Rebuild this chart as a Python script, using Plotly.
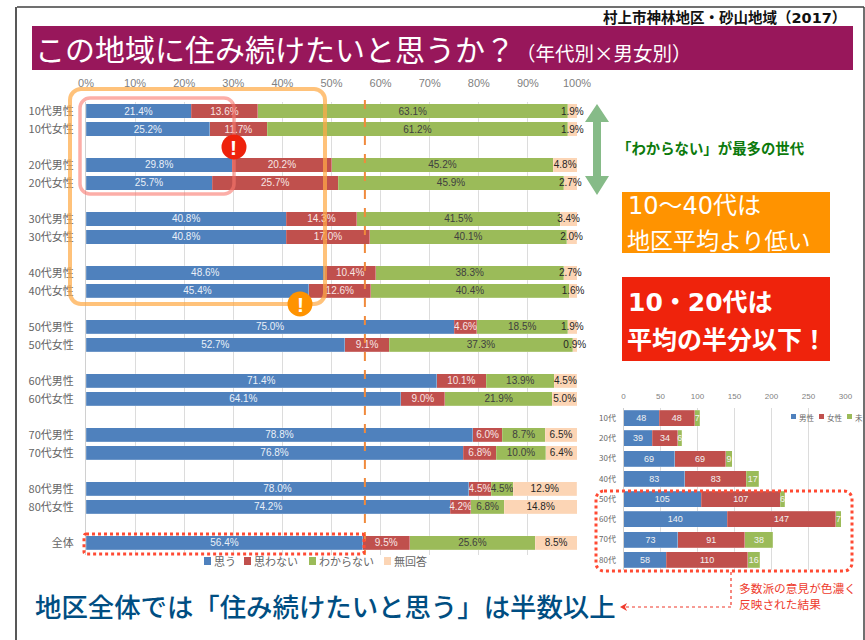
import plotly.graph_objects as go

W, H = 865, 640
FONT = "Noto Sans CJK JP"
FONT_MED = "Noto Sans CJK JP Medium, Noto Sans CJK JP"
FONT_WIDE = "DejaVu Sans, Noto Sans CJK JP"

# ---------- main chart data ----------
row_labels = ["10代男性", "10代女性", " ", "20代男性", "20代女性", "  ",
              "30代男性", "30代女性", "   ", "40代男性", "40代女性", "    ",
              "50代男性", "50代女性", "     ", "60代男性", "60代女性", "      ",
              "70代男性", "70代女性", "       ", "80代男性", "80代女性", "        ", "全体"]
labels = [r for r in row_labels if r.strip()]
agree = [21.4, 25.2, 29.8, 25.7, 40.8, 40.8, 48.6, 45.4, 75.0, 52.7, 71.4, 64.1, 78.8, 76.8, 78.0, 74.2, 56.4]
disagree = [13.6, 11.7, 20.2, 25.7, 14.3, 17.0, 10.4, 12.6, 4.6, 9.1, 10.1, 9.0, 6.0, 6.8, 4.5, 4.2, 9.5]
unknown = [63.1, 61.2, 45.2, 45.9, 41.5, 40.1, 38.3, 40.4, 18.5, 37.3, 13.9, 21.9, 8.7, 10.0, 4.5, 6.8, 25.6]
noanswer = [1.9, 1.9, 4.8, 2.7, 3.4, 2.0, 2.7, 1.6, 1.9, 0.9, 4.5, 5.0, 6.5, 6.4, 12.9, 14.8, 8.5]
main_series = [("思う", agree, "#4F81BD", "#EAF0F8"),
               ("思わない", disagree, "#C0504D", "#F7E6E5"),
               ("わからない", unknown, "#9BBB59", "#404040"),
               ("無回答", noanswer, "#FCD5B5", "#262626")]
overall_avg = 56.4

# ---------- small chart data ----------
ages = ["10代", "20代", "30代", "40代", "50代", "60代", "70代", "80代"]
male_n = [48, 39, 69, 83, 105, 140, 73, 58]
female_n = [48, 34, 69, 83, 107, 147, 91, 110]
other_n = [7, 6, 9, 17, 6, 7, 38, 16]
small_series = [("男性", male_n, "#4F81BD"), ("女性", female_n, "#C0504D"), ("未", other_n, "#9BBB59")]


def px(x):
    return x / W


def py(y):
    return 1 - y / H


fig = go.Figure()
for name, vals, col, tc in main_series:
    fig.add_trace(go.Bar(y=labels, x=vals, name=name, orientation="h",
                         marker=dict(color=col, line=dict(color="rgba(255,255,255,0.35)", width=0.5)),
                         texttemplate="%{x:.1f}%", textposition="inside", insidetextanchor="middle",
                         textangle=0, constraintext="none", cliponaxis=False,
                         textfont=dict(color=tc, size=10, family="Liberation Sans"),
                         xaxis="x", yaxis="y", hoverinfo="skip", showlegend=False))
for name, vals, col in small_series:
    fig.add_trace(go.Bar(y=ages, x=vals, name=name, orientation="h",
                         marker=dict(color=col, line=dict(color="rgba(255,255,255,0.4)", width=0.5)),
                         text=vals, textposition="inside", insidetextanchor="middle",
                         textangle=0, constraintext="none", cliponaxis=False,
                         textfont=dict(color="#F2F2F2", size=9, family="Liberation Sans"),
                         xaxis="x2", yaxis="y2", hoverinfo="skip", showlegend=False))

shapes = []


def rect(x0, y0, x1, y1, fill):
    shapes.append(dict(type="rect", xref="paper", yref="paper", x0=px(x0), x1=px(x1), y0=py(y1), y1=py(y0),
                       fillcolor=fill, line=dict(width=0), layer="below"))


def round_rect(x0, y0, x1, y1, r, color, width, dash="solid"):
    k = 0.45 * r
    pts = (f"M{px(x0 + r)},{py(y0)} L{px(x1 - r)},{py(y0)} "
           f"C{px(x1 - k)},{py(y0)} {px(x1)},{py(y0 + k)} {px(x1)},{py(y0 + r)} "
           f"L{px(x1)},{py(y1 - r)} C{px(x1)},{py(y1 - k)} {px(x1 - k)},{py(y1)} {px(x1 - r)},{py(y1)} "
           f"L{px(x0 + r)},{py(y1)} C{px(x0 + k)},{py(y1)} {px(x0)},{py(y1 - k)} {px(x0)},{py(y1 - r)} "
           f"L{px(x0)},{py(y0 + r)} C{px(x0)},{py(y0 + k)} {px(x0 + k)},{py(y0)} {px(x0 + r)},{py(y0)} Z")
    shapes.append(dict(type="path", xref="paper", yref="paper", path=pts, line=dict(color=color, width=width, dash=dash)))


def line(x0, y0, x1, y1, color, width, dash="solid"):
    shapes.append(dict(type="line", xref="paper", yref="paper", x0=px(x0), x1=px(x1), y0=py(y0), y1=py(y1),
                       line=dict(color=color, width=width, dash=dash)))


def poly(points, fill):
    d = "M" + " L".join(f"{px(a)},{py(b)}" for a, b in points) + " Z"
    shapes.append(dict(type="path", xref="paper", yref="paper", path=d, fillcolor=fill, line=dict(width=0)))


def circle(cx, cy, r, fill):
    shapes.append(dict(type="circle", xref="paper", yref="paper", x0=px(cx - r), x1=px(cx + r),
                       y0=py(cy + r), y1=py(cy - r), fillcolor=fill, line=dict(width=0)))


# frame and colour bands
line(17, 7, 864, 7, "#404040", 1.5)
line(16, 7, 16, 640, "#202020", 1.5)
line(864, 7, 864, 640, "#404040", 1.5)
rect(32, 26, 853, 70, "#98175B")
rect(622, 192, 830, 253, "#FF9300")
rect(622, 277, 830, 361, "#EF230C")

# highlights
round_rect(70, 89, 325, 304, 11, "rgba(255,170,70,0.72)", 4)
round_rect(80, 98, 234, 194, 10, "rgba(250,120,110,0.6)", 3.5)
shapes.append(dict(type="line", xref="x", yref="paper", x0=overall_avg + 0.4, x1=overall_avg + 0.4,
                   y0=py(100), y1=py(555), line=dict(color="#F08A3C", width=2, dash="dash")))
round_rect(84, 534, 364, 554, 2, "#FF4A33", 3, "dot")
round_rect(596, 491, 852, 571, 8, "#FF4A33", 3, "dot")
circle(234, 147, 12.5, "#EE220C")
circle(300, 304, 12.5, "#FF9300")

# green double arrow
poly([(597, 104), (609, 122), (601, 122), (601, 176), (609, 176), (597, 195), (585, 176), (593, 176), (593, 122), (585, 122)],
     "#86BB88")

# connector
line(731, 572, 731, 607, "#F0392B", 1.2, "dot")
line(731, 607, 623, 607, "#F0392B", 1.2, "dot")
poly([(620, 607), (627, 603), (625, 607), (627, 611)], "#F0392B")

ann = []


def text(x, y, s, size, color, bold=False, anchor="left", family=FONT):
    ann.append(dict(xref="paper", yref="paper", x=px(x), y=py(y), text=f"<b>{s}</b>" if bold else s,
                    showarrow=False, xanchor=anchor, yanchor="middle",
                    font=dict(size=size, color=color, family=family)))


# hand-placed legends (the reference's spacing is tighter than a Plotly legend allows)
main_legend_x = [204, 244, 309, 384]
for (name, _, col, _), lx in zip(main_series, main_legend_x):
    rect(lx, 557, lx + 7, 565, col)
    text(lx + 8, 561, name, 11, "#666666")
small_legend_x = [791, 819, 847]
for (name, _, col), lx in zip(small_series, small_legend_x):
    rect(lx, 414, lx + 5, 419, col)
    text(lx + 6, 417, name, 7.5, "#666666")

text(601, 17, "村上市神林地区・砂山地域（2017）", 14.5, "#111111", True, family=FONT_WIDE)
text(33, 48, "この地域に住み続けたいと思うか？", 30, "#FFFFFF")
text(514, 52, "（年代別×男女別）", 19.5, "#FFFFFF")
text(615, 148, "「わからない」が最多の世代", 14.4, "#0C7A0C", True)
text(626, 206, "10～40代は", 24, "#FFFFFF", family=FONT_WIDE)
text(625, 239, "地区平均より低い", 23, "#FFFFFF")
text(626, 302, "10・20代は", 25, "#FFFFFF", True, family=FONT_WIDE)
text(625, 338, "平均の半分以下！", 25, "#FFFFFF", True)
text(234, 147, "!", 21, "#FFFFFF", True, "center", "Liberation Sans")
text(300, 304, "!", 21, "#FFFFFF", True, "center", "Liberation Sans")
text(33, 605, "地区全体では「住み続けたいと思う」は半数以上", 26.4, "#004E82", family=FONT_MED)
text(737, 587, "多数派の意見が色濃く", 11.7, "#EE3A2C")
text(737, 603, "反映された結果", 11.7, "#EE3A2C")

HIDE = "rgba(0,0,0,0)"
fig.update_layout(
    width=W, height=H, autosize=False, margin=dict(l=0, r=0, t=0, b=0, autoexpand=False),
    paper_bgcolor="#FFFFFF", plot_bgcolor="rgba(0,0,0,0)",
    barmode="stack", bargap=0.22, showlegend=False, font=dict(family=FONT),
    shapes=shapes, annotations=ann,
    xaxis=dict(domain=[px(86), px(577)], range=[0, 100], side="top", tickvals=list(range(0, 101, 10)),
               ticktext=[f"{v}%" for v in range(0, 101, 10)], ticks="outside", ticklen=10, tickcolor=HIDE, anchor="y",
               tickfont=dict(size=11, color="#7F7F7F", family="Liberation Sans"),
               gridcolor="#DCDCDC", gridwidth=1.3, showline=False, zeroline=False),
    yaxis=dict(domain=[py(555), py(102)], autorange=False, range=[24.67, -0.5], type="category",
               categoryorder="array", categoryarray=row_labels, tickmode="array", tickvals=row_labels, ticktext=row_labels,
               tickfont=dict(size=11, color="#666666", family=FONT), ticks="outside", ticklen=9, tickcolor=HIDE,
               showgrid=False, showline=True, linecolor="#D0D0D0", linewidth=1, anchor="x", zeroline=False),
    xaxis2=dict(domain=[px(623.5), px(845.5)], range=[0, 300], side="top", tickvals=list(range(0, 301, 50)),
                ticks="outside", ticklen=5, tickcolor=HIDE, anchor="y2",
                tickfont=dict(size=8, color="#7F7F7F", family="Liberation Sans"),
                gridcolor="#DCDCDC", gridwidth=1, showline=False, zeroline=False),
    yaxis2=dict(domain=[py(570), py(408)], autorange="reversed", type="category", categoryorder="array", categoryarray=ages,
                tickfont=dict(size=8, color="#666666", family=FONT), ticks="outside", ticklen=5, tickcolor=HIDE,
                showgrid=False, showline=True, linecolor="#D0D0D0", anchor="x2", zeroline=False),
)

post = ("document.body.style.margin='0';"
        "document.documentElement.style.overflow='hidden';"
        "document.body.style.overflow='hidden';")
fig.write_html("out.html", post_script=post, default_width="865px", default_height="640px",
               config={"displayModeBar": False, "responsive": False})
